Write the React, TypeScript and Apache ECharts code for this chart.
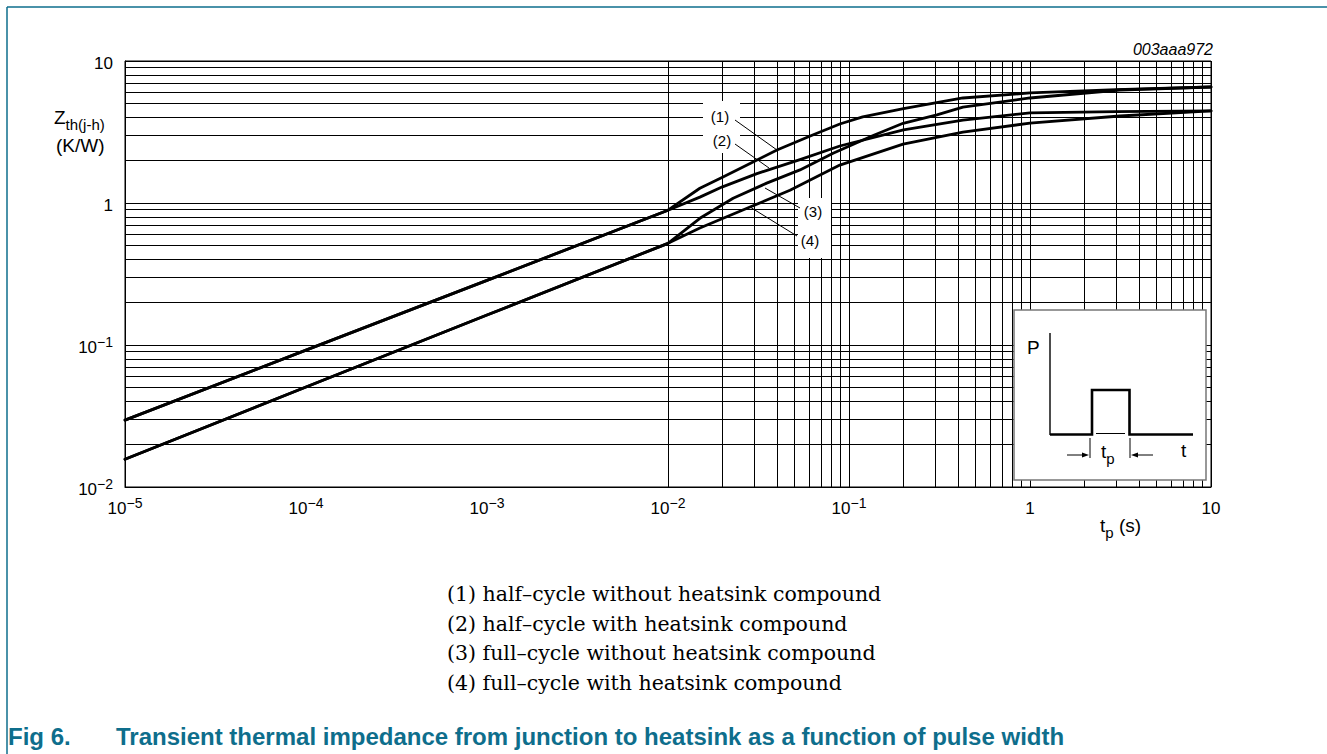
import React, { useEffect, useRef } from "react";
import * as echarts from "echarts";

// ---------------- data ----------------
const X_DECADES = [-5, -4, -3, -2, -1, 0, 1];
const Y_DECADES = [-2, -1, 0, 1];
const MINOR_STEPS = [2, 3, 4, 5, 6, 7, 8, 9];

const CURVE_LABELS = ["(1)", "(2)", "(3)", "(4)"];
const LEGEND_LINES = [
  "(1) half\u2013cycle without heatsink compound",
  "(2) half\u2013cycle with heatsink compound",
  "(3) full\u2013cycle without heatsink compound",
  "(4) full\u2013cycle with heatsink compound",
];
const CHART_ID = "003aaa972";
const FIG_NUMBER = "Fig 6.";
const FIG_TITLE = "Transient thermal impedance from junction to heatsink as a function of pulse width";

// (1) half-cycle without heatsink compound
const T_C1 = [1e-5, 1e-4, 1e-3, 0.01, 0.015, 0.02, 0.0284, 0.04, 0.063, 0.089, 0.119, 0.2, 0.426, 1, 3, 10];
const Z_C1 = [0.0296, 0.092, 0.285, 0.89, 1.27, 1.52, 1.9, 2.36, 3.01, 3.6, 4.04, 4.62, 5.49, 5.96, 6.28, 6.56];
// (2) half-cycle with heatsink compound
const T_C2 = [1e-5, 1e-4, 1e-3, 0.01, 0.015, 0.02, 0.031, 0.0536, 0.089, 0.2, 0.426, 1, 3, 10];
const Z_C2 = [0.0296, 0.092, 0.285, 0.89, 1.1, 1.3, 1.61, 2.02, 2.52, 3.27, 3.84, 4.31, 4.4, 4.45];
// (3) full-cycle without heatsink compound
const T_C3 = [1e-5, 1e-4, 1e-3, 0.01, 0.015, 0.0229, 0.0351, 0.0536, 0.0817, 0.136, 0.199, 0.306, 0.426, 1, 3.14, 10];
const Z_C3 = [0.0157, 0.0506, 0.1626, 0.52, 0.78, 1.08, 1.38, 1.71, 2.24, 2.99, 3.64, 4.17, 4.74, 5.49, 6.25, 6.56];
// (4) full-cycle with heatsink compound
const T_C4 = [1e-5, 1e-4, 1e-3, 0.01, 0.015, 0.0284, 0.0472, 0.089, 0.199, 0.426, 1, 3.14, 10];
const Z_C4 = [0.0157, 0.0506, 0.1626, 0.52, 0.667, 0.937, 1.23, 1.85, 2.6, 3.16, 3.65, 4.1, 4.45];

const CURVES = [
  { t: T_C1, z: Z_C1 },
  { t: T_C2, z: Z_C2 },
  { t: T_C3, z: Z_C3 },
  { t: T_C4, z: Z_C4 },
];

// ---------------- helpers ----------------
const SANS = "Liberation Sans";
const TEAL = "#0e6e8c";

function gridValues(decades: number[]): number[] {
  const out: number[] = [];
  for (let i = 0; i < decades.length; i++) {
    const base = Math.pow(10, decades[i]);
    out.push(base);
    if (i < decades.length - 1) {
      for (const m of MINOR_STEPS) out.push(m * base);
    }
  }
  return out;
}

function powLabel(v: number): string {
  const e = Math.round(Math.log10(v));
  if (e === 0) return "{b|1}";
  if (e === 1) return "{b|10}";
  return "{b|10}{s|" + (e < 0 ? "\u2212" : "") + Math.abs(e) + "}";
}

const labelRich = {
  b: { fontSize: 17, fontFamily: SANS, color: "#000", lineHeight: 21, verticalAlign: "bottom" },
  s: { fontSize: 14, fontFamily: SANS, color: "#000", lineHeight: 14, verticalAlign: "top" },
};

const subRich = {
  a: { fontSize: 19, fontFamily: SANS, fill: "#000", lineHeight: 24, verticalAlign: "top" },
  b: { fontSize: 15, fontFamily: SANS, fill: "#000", lineHeight: 15, verticalAlign: "bottom" },
};

function txt(x: number, y: number, text: string, font: string, extra: any = {}) {
  return {
    type: "text",
    x,
    y,
    z: 30,
    silent: true,
    style: {
      text,
      font,
      fill: "#000",
      align: extra.align || "left",
      textAlign: extra.align || "left",
      verticalAlign: "middle",
      textVerticalAlign: "middle",
      ...extra.style,
    },
  };
}

function richTxt(x: number, y: number, text: string) {
  return {
    type: "text",
    x,
    y,
    z: 30,
    silent: true,
    style: {
      text,
      verticalAlign: "middle",
      textVerticalAlign: "middle",
      rich: subRich,
    },
  };
}

function seg(x1: number, y1: number, x2: number, y2: number, w: number, color = "#000") {
  return {
    type: "line",
    z: 30,
    silent: true,
    shape: { x1, y1, x2, y2 },
    style: { stroke: color, lineWidth: w },
  };
}

export default function App() {
  const ref = useRef<HTMLDivElement>(null);

  useEffect(() => {
    if (!ref.current) return;
    document.body.style.margin = "0";
    const chart = echarts.init(ref.current, null, { renderer: "svg" });

    const xGrid = gridValues(X_DECADES);
    const yGrid = gridValues(Y_DECADES);

    const gridLine = {
      type: "line",
      data: [],
      silent: true,
      markLine: {
        z: 1,
        silent: true,
        symbol: ["none", "none"],
        animation: false,
        label: { show: false },
        lineStyle: { type: "solid", color: "#000", width: 1 },
        emphasis: { disabled: true },
        data: [
          ...xGrid.map((v) => ({ xAxis: v })),
          ...yGrid.map((v) => ({ yAxis: v })),
        ],
      },
    };

    const curveSeries = CURVES.map((c, i) => ({
      type: "line",
      name: CURVE_LABELS[i],
      z: 5,
      smooth: false,
      showSymbol: false,
      symbol: "none",
      silent: true,
      lineStyle: { color: "#000", width: 2.8, join: "round", cap: "round" },
      data: c.t.map((t, k) => [t, c.z[k]]),
    }));

    const graphics: any[] = [];
    // page frame
    graphics.push(seg(7, 7, 1327, 7, 1.5, TEAL));
    graphics.push(seg(7, 7, 7, 754, 1.5, TEAL));

    // chart id
    graphics.push(txt(1213, 49, CHART_ID, `italic 16px "${SANS}"`, { align: "right" }));

    // axis names
    graphics.push(richTxt(54, 120, "{a|Z}{b|th(j-h)}"));
    graphics.push(txt(56, 145, "(K/W)", `19px "${SANS}"`));
    graphics.push(richTxt(1100, 528, "{a|t}{b|p}{a| (s)}"));

    // label masks
    graphics.push({ type: "rect", z: 25, silent: true, shape: { x: 703, y: 101, width: 37, height: 52 }, style: { fill: "#fff" } });
    graphics.push({ type: "rect", z: 25, silent: true, shape: { x: 798, y: 198, width: 33, height: 60 }, style: { fill: "#fff" } });
    // curve labels
    const lblFont = `15px "${SANS}"`;
    graphics.push(txt(720, 116, CURVE_LABELS[0], lblFont, { align: "center" }));
    graphics.push(txt(722, 140.5, CURVE_LABELS[1], lblFont, { align: "center" }));
    graphics.push(txt(813, 211.5, CURVE_LABELS[2], lblFont, { align: "center" }));
    graphics.push(txt(810, 240.5, CURVE_LABELS[3], lblFont, { align: "center" }));
    // leaders
    graphics.push(seg(735, 120, 777, 150, 1));
    graphics.push(seg(735, 144, 769, 168, 1));
    graphics.push(seg(800, 208, 765, 188, 1));
    graphics.push(seg(797, 236, 750, 207, 1));

    // inset
    graphics.push({ type: "rect", z: 25, silent: true, shape: { x: 1014, y: 310, width: 192, height: 170 }, style: { fill: "#fff", stroke: "#777", lineWidth: 1.5 } });
    graphics.push(seg(1050, 333, 1050, 435, 1.4));
    graphics.push({
      type: "polyline",
      z: 30,
      silent: true,
      shape: { points: [[1050, 434.5], [1092, 434.5], [1092, 390], [1129.5, 390], [1129.5, 434.5], [1193, 434.5]] },
      style: { stroke: "#000", lineWidth: 2.6, fill: null },
    });
    graphics.push(seg(1096, 433.5, 1125, 433.5, 1));
    graphics.push(seg(1090, 438, 1090, 458, 1));
    graphics.push(seg(1130, 438, 1130, 458, 1));
    graphics.push(seg(1067, 455, 1083, 455, 1));
    graphics.push({ type: "polygon", z: 30, silent: true, shape: { points: [[1089, 455], [1082, 452.5], [1082, 457.5]] }, style: { fill: "#000" } });
    graphics.push(seg(1137, 455, 1153, 455, 1));
    graphics.push({ type: "polygon", z: 30, silent: true, shape: { points: [[1131, 455], [1138, 452.5], [1138, 457.5]] }, style: { fill: "#000" } });
    graphics.push(richTxt(1101, 454, "{a|t}{b|p}"));
    graphics.push(txt(1181, 450, "t", `19px "${SANS}"`));
    graphics.push(txt(1027, 347, "P", `19px "${SANS}"`));

    // legend lines
    const serif = `20.5px "DejaVu Serif"`;
    LEGEND_LINES.forEach((l, i) => {
      graphics.push(txt(447, 594 + i * 29.7, l, serif));
    });

    // figure caption
    graphics.push(txt(8, 736, FIG_NUMBER, `bold 24px "${SANS}"`, { style: { fill: TEAL } }));
    graphics.push(txt(116, 736, FIG_TITLE, `bold 24px "${SANS}"`, { style: { fill: TEAL } }));

    chart.setOption({
      animation: false,
      grid: {
        left: 125,
        top: 61,
        width: 1086,
        height: 426,
        show: true,
        borderColor: "#000",
        borderWidth: 1,
        backgroundColor: "transparent",
      },
      xAxis: {
        type: "log",
        logBase: 10,
        min: 1e-5,
        max: 10,
        splitNumber: 6,
        axisLine: { show: true, lineStyle: { color: "#000", width: 1 } },
        axisTick: { show: false },
        splitLine: { show: false },
        axisLabel: {
          show: true,
          margin: 9,
          formatter: powLabel,
          rich: labelRich,
          showMinLabel: true,
          showMaxLabel: true,
          hideOverlap: false,
        },
      },
      yAxis: {
        type: "log",
        logBase: 10,
        min: 0.01,
        max: 10,
        splitNumber: 3,
        axisLine: { show: true, lineStyle: { color: "#000", width: 1 } },
        axisTick: { show: false },
        splitLine: { show: false },
        axisLabel: {
          show: true,
          margin: 12,
          formatter: powLabel,
          rich: labelRich,
          showMinLabel: true,
          showMaxLabel: true,
          hideOverlap: false,
        },
      },
      series: [gridLine, ...curveSeries],
      graphic: { elements: graphics },
    });

    return () => {
      chart.dispose();
    };
  }, []);

  return (
    <div
      ref={ref}
      style={{ position: "absolute", left: 0, top: 0, width: 1327, height: 754, background: "#fff" }}
    />
  );
}
